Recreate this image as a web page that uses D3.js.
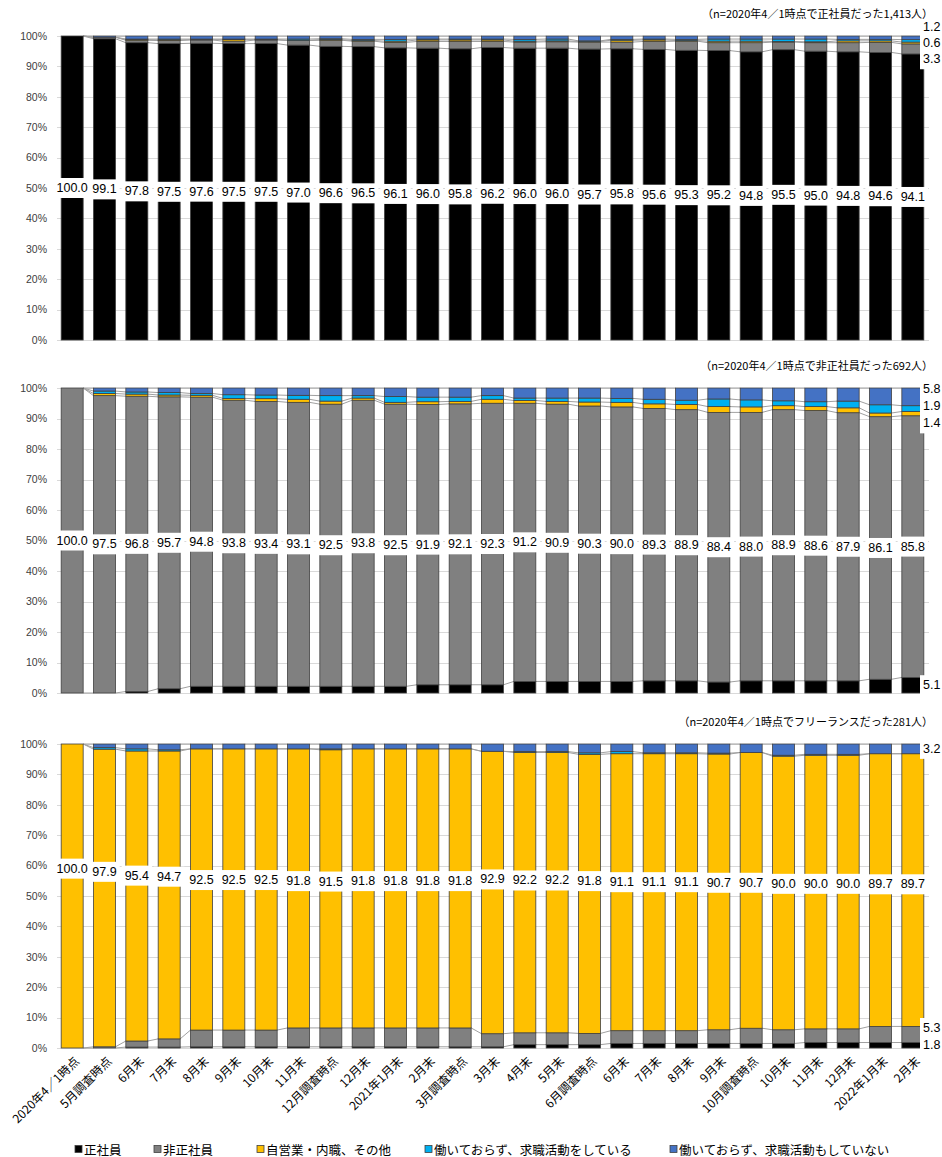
<!DOCTYPE html>
<html>
<head>
<meta charset="utf-8">
<script src="https://cdn.jsdelivr.net/npm/d3@7"></script>
<style>
  body { margin: 0; background: #fff; }
  svg { display: block; }
</style>
</head>
<body>
<svg id="chart" width="942" height="1157"></svg>
<script>
// Survey points
const categories = ["2020年4／1時点","5月調査時点","6月末","7月末","8月末","9月末","10月末","11月末","12月調査時点","12月末","2021年1月末","2月末","3月調査時点","3月末","4月末","5月末","6月調査時点","6月末","7月末","8月末","9月末","10月調査時点","10月末","11月末","12月末","2022年1月末","2月末"];

// Employment status at each point (stack order bottom -> top)
const seriesNames = ["正社員","非正社員","自営業・内職、その他","働いておらず、求職活動をしている","働いておらず、求職活動もしていない"];

// Panel A: regular employees as of 2020/4/1 (n=1,413), %
const aRegular    = [100.0,99.1,97.8,97.5,97.6,97.5,97.5,97.0,96.6,96.5,96.1,96.0,95.8,96.2,96.0,96.0,95.7,95.8,95.6,95.3,95.2,94.8,95.5,95.0,94.8,94.6,94.1];
const aNonRegular = [0,0.5,0.8,1.0,1.1,0.8,1.2,1.5,2.0,1.8,1.8,2.2,2.4,2.0,2.0,2.1,2.3,2.2,2.6,3.0,2.6,3.0,2.5,2.8,3.0,3.3,3.3];
const aSelf       = [0,0,0.2,0.2,0.1,0.5,0.1,0.1,0.2,0.2,0.4,0.5,0.5,0.5,0.3,0.3,0.2,0.6,0.5,0.2,0.5,0.5,0.2,0.3,0.6,0.5,0.6];
const aSeeking    = [0,0,0.2,0.3,0.2,0.2,0.2,0.4,0.3,0.4,0.6,0.3,0.3,0.3,0.6,0.6,0.2,0.3,0.3,0.4,0.7,0.7,0.8,0.9,0.5,0.5,0.8];
const aIdle       = [0,0.4,1.0,1.0,1.0,1.0,1.0,1.0,0.9,1.1,1.1,1.0,1.0,1.0,1.1,1.0,1.6,1.1,1.0,1.1,1.0,1.0,1.0,1.0,1.1,1.1,1.2];

// Panel B: non-regular employees as of 2020/4/1 (n=692), %
const bRegular    = [0,0,0.5,1.4,2.2,2.2,2.2,2.2,2.2,2.2,2.2,2.7,2.7,2.7,3.8,3.8,3.8,3.8,4.0,4.0,3.6,4.0,4.0,4.0,4.0,4.5,5.1];
const bNonRegular = [100.0,97.5,96.8,95.7,94.8,93.8,93.4,93.1,92.5,93.8,92.5,91.9,92.1,92.3,91.2,90.9,90.3,90.0,89.3,88.9,88.4,88.0,88.9,88.6,87.9,86.1,85.8];
const bSelf       = [0,0.7,0.7,0.6,0.6,0.6,0.9,1.0,1.0,0.7,0.6,0.9,0.8,1.3,0.9,0.9,1.3,1.5,1.5,1.7,1.9,1.8,1.3,1.3,1.6,1.2,1.4];
const bSeeking    = [0,0.8,0.7,0.8,0.6,1.2,1.2,1.3,1.8,0.8,1.9,1.5,1.4,1.2,0.8,1.1,1.3,1.3,1.5,1.4,2.5,2.3,1.6,1.6,2.2,2.7,1.9];
const bIdle       = [0,1.0,1.3,1.5,1.8,2.2,2.3,2.4,2.5,2.5,2.8,3.0,3.0,2.5,3.3,3.3,3.3,3.4,3.7,4.0,3.6,3.9,4.2,4.5,4.3,5.5,5.8];

// Panel C: freelancers as of 2020/4/1 (n=281), %
const cRegular    = [0,0,0.3,0.3,0.4,0.4,0.4,0.4,0.4,0.4,0.4,0.4,0.4,0.4,1.1,1.1,1.1,1.5,1.5,1.5,1.5,1.5,1.5,1.8,1.8,1.8,1.8];
const cNonRegular = [0,0.4,2.0,2.7,5.5,5.5,5.5,6.2,6.2,6.2,6.2,6.2,6.2,4.3,3.9,3.9,3.7,4.2,4.2,4.2,4.5,5.0,4.5,4.5,4.5,5.3,5.3];
const cSelf       = [100.0,97.9,95.4,94.7,92.5,92.5,92.5,91.8,91.5,91.8,91.8,91.8,91.8,92.9,92.2,92.2,91.8,91.1,91.1,91.1,90.7,90.7,90.0,90.0,90.0,89.7,89.7];
const cSeeking    = [0,0.5,0.7,0.4,0,0,0,0,0.3,0,0,0,0,0,0.3,0.3,0.5,0.7,0.3,0.3,0.3,0,0.3,0.3,0.3,0,0];
const cIdle       = [0,1.2,1.6,1.9,1.6,1.6,1.6,1.6,1.6,1.6,1.6,1.6,1.6,2.4,2.5,2.5,2.9,2.5,2.9,2.9,3.0,2.8,3.7,3.4,3.4,3.2,3.2];

// Axis ticks
const yTicks = [0,10,20,30,40,50,60,70,80,90,100];

// Panel captions
const notes = ["（n=2020年4／1時点で正社員だった1,413人）",
               "（n=2020年4／1時点で非正社員だった692人）",
               "（n=2020年4／1時点でフリーランスだった281人）"];

// ---- styling ----
const colors = ["#000000","#808080","#FFC000","#00B0F0","#4472C4"];
const jpFont = "'Noto Sans CJK JP','Noto Sans',sans-serif";
const numFont = "'Liberation Sans Narrow','Liberation Sans',Arial,sans-serif";

// labelBase: null -> label sits mid-segment; number -> label sits at (labelBase + value/2) %
const panels = [
  { series: [aRegular, aNonRegular, aSelf, aSeeking, aIdle], main: 0, right: [4, 2, 1], gap: 16, labelBase: null, top: 36,  bottom: 340,  note: notes[0] },
  { series: [bRegular, bNonRegular, bSelf, bSeeking, bIdle], main: 1, right: [4, 3, 2, 0], gap: 17, labelBase: null, top: 388, bottom: 693, note: notes[1] },
  { series: [cRegular, cNonRegular, cSelf, cSeeking, cIdle], main: 2, right: [4, 1, 0], gap: 17, labelBase: 9, top: 744, bottom: 1048, note: notes[2] }
];

const svg = d3.select("#chart");
const idx = d3.range(categories.length);
const x = d3.scaleBand().domain(idx).range([56, 929]).paddingInner(0.32).paddingOuter(0.16);
const bw = x.bandwidth();
const gridLeft = 57, gridRight = 929;
const keys = d3.range(seriesNames.length);

// Spread right-hand labels so they do not overlap
function spread(items, gap, maxY) {
  items.sort((a, b) => a.y - b.y);
  let clusters = items.map(d => ({ items: [d], y: d.y }));
  let changed = true;
  while (changed) {
    changed = false;
    for (let i = 0; i < clusters.length - 1; i++) {
      const a = clusters[i], b = clusters[i + 1];
      const aBottom = a.y + (a.items.length - 1) * gap / 2;
      const bTop = b.y - (b.items.length - 1) * gap / 2;
      if (bTop - aBottom < gap) {
        const its = a.items.concat(b.items);
        clusters.splice(i, 2, { items: its, y: d3.mean(its, d => d.y) });
        changed = true;
        break;
      }
    }
  }
  clusters.forEach(c => c.items.forEach((d, k) => d.ly = c.y + (k - (c.items.length - 1) / 2) * gap));
  const lastC = clusters[clusters.length - 1];
  const last = lastC.items[lastC.items.length - 1];
  if (last.ly > maxY) {
    const s = last.ly - maxY;
    lastC.items.forEach(d => d.ly -= s);
  }
}

function labelWithBox(g, text, cx, cy, anchor, size) {
  const grp = g.append("g");
  const rect = grp.append("rect").attr("fill", "#fff");
  const t = grp.append("text")
    .attr("x", cx).attr("y", cy)
    .attr("text-anchor", anchor)
    .attr("dominant-baseline", "central")
    .attr("font-family", numFont)
    .attr("font-size", size)
    .attr("fill", "#000")
    .text(text);
  const bb = t.node().getBBox();
  rect.attr("x", bb.x - 3).attr("y", cy - 10).attr("width", bb.width + 6).attr("height", 20);
}

panels.forEach(p => {
  const g = svg.append("g");
  const y = d3.scaleLinear().domain([0, 100]).range([p.bottom, p.top]);

  const rows = idx.map(i => {
    const r = {};
    keys.forEach(k => r[k] = p.series[k][i]);
    return r;
  });
  const stacked = d3.stack().keys(keys)(rows);

  // gridlines
  g.append("g").selectAll("line").data(yTicks).join("line")
    .attr("x1", gridLeft).attr("x2", gridRight)
    .attr("y1", d => Math.round(y(d)) + 0.5).attr("y2", d => Math.round(y(d)) + 0.5)
    .attr("stroke", "#d9d9d9").attr("stroke-width", 1);

  // y axis labels
  const axis = g.append("g").attr("transform", `translate(${gridLeft - 10},0)`)
    .call(d3.axisLeft(y).tickValues(yTicks).tickSize(0).tickPadding(0).tickFormat(d => d + "%"));
  axis.select(".domain").remove();
  axis.selectAll("text").attr("font-family", numFont).attr("font-size", 10.5).attr("fill", "#404040");

  // series lines joining segment tops of neighbouring bars
  stacked.forEach(layer => {
    const segs = d3.pairs(idx);
    g.append("g").selectAll("line").data(segs).join("line")
      .attr("x1", d => x(d[0]) + bw).attr("y1", d => y(layer[d[0]][1]))
      .attr("x2", d => x(d[1])).attr("y2", d => y(layer[d[1]][1]))
      .attr("stroke", "#a0a0a0").attr("stroke-width", 1);
  });

  // stacked bars
  stacked.forEach((layer, k) => {
    g.append("g").selectAll("rect").data(layer.map((d, i) => ({ d, i })).filter(o => o.d[1] - o.d[0] > 0)).join("rect")
      .attr("x", o => x(o.i)).attr("width", bw)
      .attr("y", o => y(o.d[1])).attr("height", o => y(o.d[0]) - y(o.d[1]))
      .attr("fill", colors[k])
      .attr("stroke", "#404040").attr("stroke-width", 0.8);
  });

  // value labels on the main segment
  const mainLayer = stacked[p.main];
  const lg = g.append("g");
  mainLayer.forEach((d, i) => {
    const v = p.series[p.main][i];
    const pos = p.labelBase === null ? (d[0] + d[1]) / 2 : p.labelBase + v / 2;
    labelWithBox(lg, v.toFixed(1), x(i) + bw / 2, y(pos), "middle", 12.5);
  });

  // right-hand labels for the latest point
  const last = idx.length - 1;
  const items = p.right.map(k => ({
    k, v: p.series[k][last],
    y: y((stacked[k][last][0] + stacked[k][last][1]) / 2)
  }));
  spread(items, p.gap, p.bottom - 3);
  items.forEach(it => labelWithBox(lg, it.v.toFixed(1), 923, it.ly, "start", 12.5));

  // caption
  g.append("text")
    .attr("x", 933).attr("y", p.top - 23)
    .attr("text-anchor", "end").attr("dominant-baseline", "central")
    .attr("font-family", jpFont).attr("font-size", 11).attr("fill", "#000")
    .text(p.note);
});

// category labels under the last panel
const lastPanel = panels[panels.length - 1];
svg.append("g").selectAll("text").data(idx).join("text")
  .attr("transform", i => `translate(${x(i) + bw / 2 + 4},${lastPanel.bottom + 10}) rotate(-45)`)
  .attr("text-anchor", "end")
  .attr("dominant-baseline", "central")
  .attr("font-family", jpFont).attr("font-size", 12).attr("fill", "#000")
  .text(i => categories[i]);

// legend
const legendX = [75, 154, 257, 425, 670];
const lgd = svg.append("g").selectAll("g").data(seriesNames).join("g")
  .attr("transform", (d, i) => `translate(${legendX[i]},1149)`);
lgd.append("rect").attr("x", 0).attr("y", -3.5).attr("width", 7).attr("height", 7)
  .attr("fill", (d, i) => colors[i]).attr("stroke", "#404040").attr("stroke-width", 0.8);
lgd.append("text").attr("x", 9).attr("y", 0)
  .attr("dominant-baseline", "central")
  .attr("font-family", jpFont).attr("font-size", 12.5).attr("fill", "#000")
  .text(d => d);
</script>
</body>
</html>
